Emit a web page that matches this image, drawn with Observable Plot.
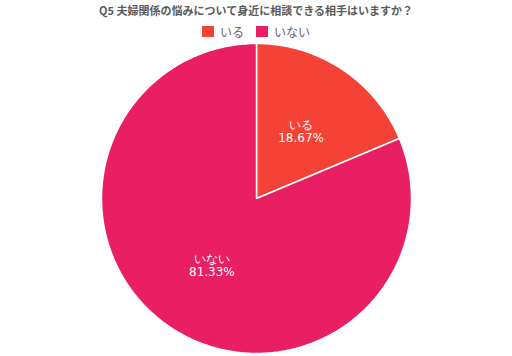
<!DOCTYPE html>
<html>
<head>
<meta charset="utf-8">
<script src="https://cdn.jsdelivr.net/npm/d3@7"></script>
<script src="https://cdn.jsdelivr.net/npm/@observablehq/plot@0.6"></script>
<style>
  html, body { margin: 0; padding: 0; background: #fff; }
  #wrap { position: relative; width: 512px; height: 356px; font-family: "Noto Sans CJK JP", "Noto Sans", sans-serif; }
  #title { position: absolute; top: 0; left: 0; width: 512px; height: 20px; line-height: 20px; text-align: center; font-size: 11px; font-weight: bold; color: #5a5a5a; }
  #legend { position: absolute; top: 22px; left: 0; width: 512px; height: 18px; display: flex; justify-content: center; align-items: center; font-size: 12px; color: #666; }
  .item { display: flex; align-items: center; margin: 0 6px; }
  .sw { width: 12px; height: 11px; margin-right: 6px; }
  #chart { position: absolute; top: 40px; left: 0; }
</style>
</head>
<body>
<div id="wrap">
  <div id="title"></div>
  <div id="legend"></div>
  <div id="chart"></div>
</div>
<script>
const titleText = "Q5 夫婦関係の悩みについて身近に相談できる相手はいますか？";
const categories = ["いる", "いない"];
const values = [18.67, 81.33];
const colors = ["#F44336", "#E91E63"];

document.getElementById("title").textContent = titleText;
const legend = document.getElementById("legend");
categories.forEach((c, i) => {
  const it = document.createElement("div");
  it.className = "item";
  const sw = document.createElement("div");
  sw.className = "sw";
  sw.style.background = colors[i];
  const t = document.createElement("span");
  t.textContent = c;
  it.appendChild(sw); it.appendChild(t);
  legend.appendChild(it);
});

const arcs = d3.pie().sort(null).value(d => d)(values);
const slices = arcs.map((a, i) => {
  const n = Math.max(2, Math.ceil((a.endAngle - a.startAngle) / 0.01));
  const pts = [{x: 0, y: 0}];
  for (let k = 0; k <= n; k++) {
    const t = a.startAngle + (a.endAngle - a.startAngle) * k / n;
    pts.push({x: Math.sin(t), y: Math.cos(t)});
  }
  pts.push({x: 0, y: 0});
  return pts;
});
const labels = arcs.map((a, i) => {
  const m = (a.startAngle + a.endAngle) / 2;
  const r = 0.52;
  return {x: r * Math.sin(m), y: r * Math.cos(m), text: `${categories[i]}\n${values[i].toFixed(2)}%`};
});

const plot = Plot.plot({
  width: 512,
  height: 316,
  marginLeft: 101,
  marginRight: 101,
  marginTop: 3,
  marginBottom: 3,
  x: {domain: [-1, 1], axis: null},
  y: {domain: [-1, 1], axis: null},
  marks: [
    ...slices.map((pts, i) => Plot.line(pts, {x: "x", y: "y", fill: colors[i], stroke: "white", strokeWidth: 1.5, strokeLinejoin: "round", curve: "linear"})),
    Plot.text(labels, {x: "x", y: "y", text: "text", fill: "white", fontSize: 12, lineHeight: 1.05, fontFamily: "DejaVu Sans, sans-serif"})
  ]
});
document.getElementById("chart").appendChild(plot);
</script>
</body>
</html>
